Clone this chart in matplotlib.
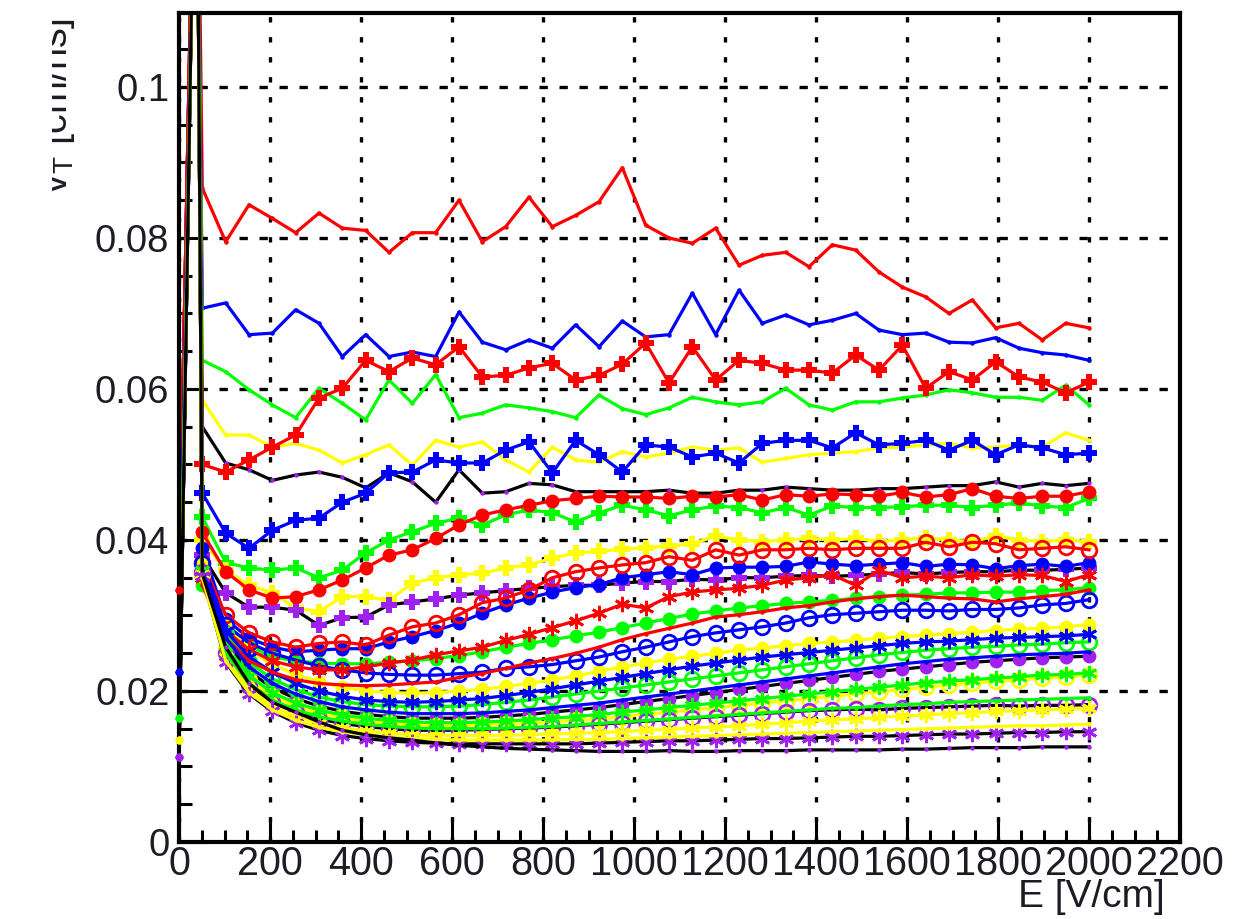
import numpy as np
import matplotlib
matplotlib.use("Agg")
import matplotlib.pyplot as plt
from matplotlib.ticker import MultipleLocator, FuncFormatter
from matplotlib.transforms import Bbox, TransformedBbox

plt.rcParams["font.family"] = ["Liberation Sans", "DejaVu Sans"]
plt.rcParams["mathtext.fontset"] = "custom"
plt.rcParams["mathtext.rm"] = "Liberation Sans"
plt.rcParams["mathtext.it"] = "Liberation Sans:italic"

# ---------------------------------------------------------------- data
# field grid: first point at E = 0, a start-up point, then regular steps
E_STEPS = np.linspace(0, 2000, 40)[1:]
E_START = 38.0
V_START = 0.15
V_ZERO = {"red": 0.0334, "blue": 0.0225, "green": 0.0164,
          "yellow": 0.0135, "violet": 0.0113}

# group A : small markers
A_RED = [0.0866, 0.0795, 0.0844, 0.0826, 0.0807, 0.0833, 0.0813, 0.0810, 0.0781, 0.0807,
         0.0807, 0.0850, 0.0795, 0.0815, 0.0854, 0.0815, 0.0830, 0.0848, 0.0893, 0.0817,
         0.0800, 0.0793, 0.0813, 0.0764, 0.0777, 0.0781, 0.0762, 0.0791, 0.0784, 0.0755,
         0.0735, 0.0722, 0.0700, 0.0718, 0.0681, 0.0687, 0.0665, 0.0687, 0.0681]
A_BLUE = [0.0707, 0.0714, 0.0672, 0.0674, 0.0705, 0.0687, 0.0643, 0.0672, 0.0643, 0.0649,
          0.0643, 0.0702, 0.0662, 0.0652, 0.0665, 0.0654, 0.0685, 0.0656, 0.0690, 0.0669,
          0.0672, 0.0727, 0.0672, 0.0731, 0.0687, 0.0698, 0.0685, 0.0691, 0.0700, 0.0678,
          0.0672, 0.0674, 0.0662, 0.0661, 0.0668, 0.0654, 0.0648, 0.0645, 0.0638]
A_GREEN = [0.0638, 0.0623, 0.0599, 0.0579, 0.0562, 0.0601, 0.0581, 0.0559, 0.0612, 0.0581,
           0.0619, 0.0562, 0.0568, 0.0579, 0.0575, 0.0570, 0.0562, 0.0592, 0.0574, 0.0566,
           0.0575, 0.0589, 0.0583, 0.0579, 0.0583, 0.0601, 0.0579, 0.0572, 0.0583, 0.0583,
           0.0588, 0.0592, 0.0599, 0.0595, 0.0589, 0.0589, 0.0585, 0.0605, 0.0579]
A_YELLOW = [0.0585, 0.0539, 0.0539, 0.0523, 0.0528, 0.0519, 0.0502, 0.0513, 0.0526, 0.0499,
            0.0532, 0.0523, 0.0530, 0.0506, 0.0490, 0.0523, 0.0506, 0.0503, 0.0517, 0.0510,
            0.0515, 0.0523, 0.0519, 0.0522, 0.0503, 0.0508, 0.0513, 0.0515, 0.0517, 0.0522,
            0.0523, 0.0526, 0.0528, 0.0522, 0.0523, 0.0526, 0.0523, 0.0542, 0.0532]
A_VIOLET = [0.0550, 0.0502, 0.0493, 0.0479, 0.0486, 0.0490, 0.0483, 0.0469, 0.0489, 0.0477,
            0.0450, 0.0493, 0.0462, 0.0464, 0.0475, 0.0473, 0.0464, 0.0464, 0.0464, 0.0464,
            0.0466, 0.0462, 0.0462, 0.0466, 0.0466, 0.0470, 0.0468, 0.0466, 0.0466, 0.0468,
            0.0468, 0.0470, 0.0472, 0.0472, 0.0477, 0.0470, 0.0475, 0.0472, 0.0475]

# group B : thick crosses
B_RED = [0.0500, 0.0490, 0.0506, 0.0523, 0.0539, 0.0588, 0.0601, 0.0638, 0.0623, 0.0641,
         0.0632, 0.0656, 0.0616, 0.0618, 0.0628, 0.0634, 0.0612, 0.0618, 0.0633, 0.0661,
         0.0608, 0.0656, 0.0612, 0.0638, 0.0634, 0.0625, 0.0625, 0.0621, 0.0645, 0.0625,
         0.0658, 0.0601, 0.0623, 0.0612, 0.0636, 0.0616, 0.0609, 0.0595, 0.0609]
B_BLUE = [0.0462, 0.0409, 0.0389, 0.0413, 0.0426, 0.0429, 0.0450, 0.0462, 0.0489, 0.0490,
          0.0506, 0.0502, 0.0502, 0.0519, 0.0530, 0.0489, 0.0532, 0.0513, 0.0490, 0.0526,
          0.0523, 0.0510, 0.0515, 0.0502, 0.0528, 0.0532, 0.0532, 0.0522, 0.0542, 0.0526,
          0.0528, 0.0532, 0.0519, 0.0532, 0.0513, 0.0526, 0.0522, 0.0513, 0.0515]
B_GREEN = [0.0430, 0.0370, 0.0363, 0.0360, 0.0363, 0.0350, 0.0360, 0.0383, 0.0400, 0.0411,
           0.0422, 0.0429, 0.0420, 0.0433, 0.0440, 0.0436, 0.0424, 0.0436, 0.0446, 0.0440,
           0.0432, 0.0440, 0.0445, 0.0443, 0.0436, 0.0443, 0.0433, 0.0445, 0.0443, 0.0443,
           0.0444, 0.0446, 0.0446, 0.0443, 0.0446, 0.0449, 0.0445, 0.0443, 0.0455]
B_YELLOW = [0.0400, 0.0360, 0.0340, 0.0330, 0.0310, 0.0305, 0.0325, 0.0325, 0.0320, 0.0343,
            0.0350, 0.0354, 0.0356, 0.0363, 0.0367, 0.0376, 0.0383, 0.0385, 0.0388, 0.0390,
            0.0392, 0.0395, 0.0405, 0.0400, 0.0398, 0.0400, 0.0402, 0.0400, 0.0402, 0.0398,
            0.0400, 0.0403, 0.0400, 0.0398, 0.0405, 0.0400, 0.0398, 0.0400, 0.0398]
B_VIOLET = [0.0380, 0.0330, 0.0311, 0.0311, 0.0307, 0.0287, 0.0297, 0.0298, 0.0314, 0.0318,
            0.0322, 0.0327, 0.0330, 0.0333, 0.0336, 0.0338, 0.0340, 0.0340, 0.0343, 0.0345,
            0.0345, 0.0348, 0.0347, 0.0350, 0.0350, 0.0352, 0.0353, 0.0352, 0.0353, 0.0355,
            0.0357, 0.0355, 0.0357, 0.0358, 0.0358, 0.0360, 0.0360, 0.0361, 0.0363]

# group C : filled circles
C_RED = [0.0410, 0.0358, 0.0334, 0.0323, 0.0325, 0.0334, 0.0347, 0.0363, 0.0380, 0.0387,
         0.0402, 0.0420, 0.0433, 0.0440, 0.0446, 0.0452, 0.0455, 0.0458, 0.0457, 0.0457,
         0.0455, 0.0458, 0.0457, 0.0460, 0.0453, 0.0460, 0.0458, 0.0461, 0.0460, 0.0458,
         0.0463, 0.0457, 0.0460, 0.0468, 0.0458, 0.0455, 0.0458, 0.0458, 0.0464]
C_BLUE = [0.0390, 0.0295, 0.0270, 0.0258, 0.0252, 0.0254, 0.0256, 0.0256, 0.0265, 0.0272,
          0.0280, 0.0290, 0.0303, 0.0314, 0.0323, 0.0331, 0.0337, 0.0341, 0.0350, 0.0354,
          0.0358, 0.0354, 0.0363, 0.0364, 0.0364, 0.0365, 0.0371, 0.0368, 0.0366, 0.0368,
          0.0370, 0.0365, 0.0368, 0.0367, 0.0362, 0.0366, 0.0368, 0.0365, 0.0370]
C_GREEN = [0.0340, 0.0290, 0.0260, 0.0245, 0.0240, 0.0237, 0.0236, 0.0236, 0.0238, 0.0240,
           0.0243, 0.0247, 0.0252, 0.0258, 0.0263, 0.0268, 0.0273, 0.0278, 0.0284, 0.0290,
           0.0296, 0.0302, 0.0306, 0.0310, 0.0313, 0.0316, 0.0318, 0.0320, 0.0323, 0.0325,
           0.0327, 0.0328, 0.0330, 0.0330, 0.0331, 0.0331, 0.0333, 0.0334, 0.0337]
C_YELLOW = [0.0370, 0.0290, 0.0255, 0.0235, 0.0222, 0.0212, 0.0205, 0.0200, 0.0198, 0.0197,
            0.0198, 0.0200, 0.0202, 0.0206, 0.0210, 0.0215, 0.0220, 0.0226, 0.0232, 0.0237,
            0.0242, 0.0246, 0.0250, 0.0254, 0.0257, 0.0260, 0.0263, 0.0265, 0.0267, 0.0270,
            0.0272, 0.0274, 0.0276, 0.0278, 0.0280, 0.0282, 0.0283, 0.0285, 0.0288]
C_VIOLET = [0.0355, 0.0265, 0.0226, 0.0204, 0.0190, 0.0180, 0.0173, 0.0169, 0.0166, 0.0164,
            0.0164, 0.0164, 0.0165, 0.0167, 0.0169, 0.0172, 0.0175, 0.0178, 0.0182, 0.0186,
            0.0190, 0.0194, 0.0198, 0.0202, 0.0206, 0.0210, 0.0214, 0.0218, 0.0222, 0.0226,
            0.0229, 0.0232, 0.0235, 0.0238, 0.0240, 0.0242, 0.0244, 0.0245, 0.0246]

# group D : open circles
D_RED = [0.0370, 0.0301, 0.0277, 0.0265, 0.0258, 0.0263, 0.0265, 0.0261, 0.0274, 0.0285,
         0.0290, 0.0301, 0.0317, 0.0323, 0.0334, 0.0350, 0.0358, 0.0363, 0.0367, 0.0370,
         0.0378, 0.0373, 0.0387, 0.0380, 0.0387, 0.0387, 0.0389, 0.0387, 0.0389, 0.0389,
         0.0389, 0.0397, 0.0391, 0.0397, 0.0395, 0.0387, 0.0389, 0.0391, 0.0387]
D_BLUE = [0.0370, 0.0287, 0.0264, 0.0250, 0.0241, 0.0233, 0.0228, 0.0224, 0.0222, 0.0221,
          0.0221, 0.0223, 0.0225, 0.0230, 0.0232, 0.0235, 0.0240, 0.0245, 0.0252, 0.0258,
          0.0265, 0.0272, 0.0277, 0.0281, 0.0285, 0.0290, 0.0297, 0.0301, 0.0303, 0.0305,
          0.0307, 0.0307, 0.0306, 0.0308, 0.0308, 0.0310, 0.0314, 0.0316, 0.0321]
D_GREEN = [0.0355, 0.0275, 0.0238, 0.0216, 0.0202, 0.0192, 0.0186, 0.0182, 0.0180, 0.0179,
           0.0179, 0.0180, 0.0182, 0.0185, 0.0188, 0.0192, 0.0196, 0.0200, 0.0204, 0.0208,
           0.0212, 0.0216, 0.0220, 0.0224, 0.0228, 0.0232, 0.0236, 0.0240, 0.0244, 0.0248,
           0.0251, 0.0254, 0.0256, 0.0258, 0.0259, 0.0261, 0.0262, 0.0264, 0.0265]
D_YELLOW = [0.0355, 0.0255, 0.0215, 0.0193, 0.0180, 0.0171, 0.0165, 0.0160, 0.0157, 0.0155,
            0.0154, 0.0154, 0.0155, 0.0156, 0.0157, 0.0159, 0.0161, 0.0163, 0.0166, 0.0169,
            0.0172, 0.0175, 0.0178, 0.0181, 0.0184, 0.0187, 0.0190, 0.0193, 0.0196, 0.0199,
            0.0202, 0.0205, 0.0208, 0.0210, 0.0213, 0.0215, 0.0217, 0.0219, 0.0221]
D_VIOLET = [0.0358, 0.0250, 0.0208, 0.0185, 0.0172, 0.0163, 0.0157, 0.0153, 0.0150, 0.0148,
            0.0148, 0.0148, 0.0149, 0.0150, 0.0151, 0.0152, 0.0154, 0.0156, 0.0158, 0.0160,
            0.0162, 0.0164, 0.0166, 0.0168, 0.0170, 0.0172, 0.0174, 0.0175, 0.0176, 0.0175,
            0.0177, 0.0178, 0.0179, 0.0180, 0.0181, 0.0180, 0.0181, 0.0181, 0.0182]

# group E : asterisks
E_RED = [0.0350, 0.0280, 0.0255, 0.0240, 0.0232, 0.0228, 0.0228, 0.0232, 0.0237, 0.0241,
         0.0248, 0.0253, 0.0258, 0.0267, 0.0275, 0.0284, 0.0293, 0.0303, 0.0315, 0.0310,
         0.0325, 0.0331, 0.0334, 0.0336, 0.0340, 0.0347, 0.0350, 0.0354, 0.0340, 0.0360,
         0.0350, 0.0352, 0.0350, 0.0354, 0.0352, 0.0354, 0.0353, 0.0345, 0.0354]
E_BLUE = [0.0360, 0.0280, 0.0245, 0.0225, 0.0210, 0.0200, 0.0193, 0.0188, 0.0186, 0.0185,
          0.0186, 0.0188, 0.0190, 0.0194, 0.0198, 0.0203, 0.0208, 0.0213, 0.0218, 0.0223,
          0.0228, 0.0233, 0.0237, 0.0241, 0.0245, 0.0248, 0.0251, 0.0254, 0.0257, 0.0260,
          0.0263, 0.0265, 0.0266, 0.0268, 0.0270, 0.0271, 0.0272, 0.0273, 0.0275]
E_GREEN = [0.0360, 0.0260, 0.0220, 0.0198, 0.0184, 0.0175, 0.0168, 0.0164, 0.0161, 0.0159,
           0.0158, 0.0158, 0.0159, 0.0160, 0.0162, 0.0164, 0.0166, 0.0169, 0.0172, 0.0175,
           0.0178, 0.0181, 0.0184, 0.0187, 0.0190, 0.0193, 0.0196, 0.0199, 0.0202, 0.0205,
           0.0208, 0.0211, 0.0213, 0.0215, 0.0217, 0.0219, 0.0221, 0.0222, 0.0224]
E_YELLOW = [0.0355, 0.0245, 0.0203, 0.0180, 0.0166, 0.0157, 0.0151, 0.0147, 0.0144, 0.0142,
            0.0141, 0.0141, 0.0141, 0.0141, 0.0142, 0.0143, 0.0144, 0.0145, 0.0146, 0.0148,
            0.0149, 0.0151, 0.0152, 0.0154, 0.0156, 0.0158, 0.0160, 0.0162, 0.0163, 0.0165,
            0.0167, 0.0168, 0.0170, 0.0171, 0.0173, 0.0174, 0.0175, 0.0176, 0.0177]
E_VIOLET = [0.0352, 0.0238, 0.0196, 0.0173, 0.0158, 0.0148, 0.0141, 0.0137, 0.0134, 0.0132,
            0.0131, 0.0130, 0.0130, 0.0130, 0.0130, 0.0130, 0.0130, 0.0131, 0.0132, 0.0133,
            0.0134, 0.0134, 0.0135, 0.0136, 0.0137, 0.0137, 0.0138, 0.0139, 0.0140, 0.0140,
            0.0141, 0.0142, 0.0143, 0.0143, 0.0144, 0.0145, 0.0145, 0.0146, 0.0146]

# group F : plain lines with small markers
F_RED = [0.0340, 0.0270, 0.0240, 0.0225, 0.0215, 0.0210, 0.0208, 0.0207, 0.0208, 0.0210,
         0.0212, 0.0218, 0.0223, 0.0230, 0.0237, 0.0243, 0.0250, 0.0258, 0.0268, 0.0276,
         0.0283, 0.0290, 0.0298, 0.0301, 0.0305, 0.0310, 0.0313, 0.0318, 0.0322, 0.0325,
         0.0327, 0.0325, 0.0323, 0.0322, 0.0318, 0.0322, 0.0325, 0.0328, 0.0334]
F_BLUE = [0.0360, 0.0270, 0.0232, 0.0210, 0.0196, 0.0186, 0.0179, 0.0175, 0.0172, 0.0170,
          0.0170, 0.0170, 0.0171, 0.0173, 0.0175, 0.0178, 0.0181, 0.0184, 0.0188, 0.0192,
          0.0196, 0.0200, 0.0204, 0.0208, 0.0212, 0.0216, 0.0220, 0.0224, 0.0228, 0.0232,
          0.0236, 0.0239, 0.0242, 0.0244, 0.0246, 0.0248, 0.0249, 0.0250, 0.0252]
F_GREEN = [0.0355, 0.0250, 0.0210, 0.0188, 0.0175, 0.0166, 0.0160, 0.0156, 0.0153, 0.0151,
           0.0150, 0.0150, 0.0150, 0.0151, 0.0152, 0.0153, 0.0155, 0.0157, 0.0159, 0.0161,
           0.0163, 0.0165, 0.0167, 0.0169, 0.0171, 0.0173, 0.0175, 0.0177, 0.0178, 0.0180,
           0.0182, 0.0183, 0.0185, 0.0186, 0.0187, 0.0188, 0.0189, 0.0190, 0.0191]
F_YELLOW = [0.0350, 0.0240, 0.0198, 0.0175, 0.0161, 0.0152, 0.0146, 0.0142, 0.0139, 0.0137,
            0.0136, 0.0135, 0.0135, 0.0135, 0.0135, 0.0135, 0.0136, 0.0136, 0.0137, 0.0138,
            0.0139, 0.0140, 0.0141, 0.0142, 0.0143, 0.0144, 0.0145, 0.0146, 0.0147, 0.0148,
            0.0149, 0.0150, 0.0151, 0.0152, 0.0153, 0.0154, 0.0154, 0.0155, 0.0156]
F_VIOLET = [0.0355, 0.0258, 0.0210, 0.0185, 0.0172, 0.0159, 0.0148, 0.0142, 0.0138, 0.0135,
            0.0131, 0.0128, 0.0126, 0.0124, 0.0123, 0.0122, 0.0121, 0.0120, 0.0120, 0.0120,
            0.0121, 0.0120, 0.0120, 0.0121, 0.0121, 0.0121, 0.0122, 0.0122, 0.0122, 0.0122,
            0.0123, 0.0123, 0.0124, 0.0125, 0.0125, 0.0125, 0.0126, 0.0126, 0.0126]

X_TICKS = [0, 200, 400, 600, 800, 1000, 1200, 1400, 1600, 1800, 2000, 2200]
Y_TICKS = [0, 0.02, 0.04, 0.06, 0.08, 0.1]

# ---------------------------------------------------------------- styles
COLORS = {"red": "#ff0000", "blue": "#0000ff", "green": "#00ff00",
          "yellow": "#ffff00", "violet": "#a020f0"}
LINE_COLORS = dict(COLORS, violet="#000000")

MARKERS = {
    "A": dict(marker="o", ms=3.2, mew=0),
    "B": dict(marker="P", ms=12, mew=0),
    "C": dict(marker="o", ms=10, mew=0),
    "D": dict(marker="o", ms=10.5, mew=2.0, fill=False),
    "E": dict(marker=(6, 2, 0), ms=11, mew=2.0),
    "F": dict(marker="o", ms=3.2, mew=0),
}

SERIES = [
    ("A", "red", A_RED), ("A", "blue", A_BLUE), ("A", "green", A_GREEN),
    ("A", "yellow", A_YELLOW), ("A", "violet", A_VIOLET),
    ("B", "red", B_RED), ("B", "blue", B_BLUE), ("B", "green", B_GREEN),
    ("B", "yellow", B_YELLOW), ("B", "violet", B_VIOLET),
    ("C", "red", C_RED), ("C", "blue", C_BLUE), ("C", "green", C_GREEN),
    ("C", "yellow", C_YELLOW), ("C", "violet", C_VIOLET),
    ("D", "red", D_RED), ("D", "blue", D_BLUE), ("D", "green", D_GREEN),
    ("D", "yellow", D_YELLOW), ("D", "violet", D_VIOLET),
    ("E", "red", E_RED), ("E", "blue", E_BLUE), ("E", "green", E_GREEN),
    ("E", "yellow", E_YELLOW), ("E", "violet", E_VIOLET),
    ("F", "red", F_RED), ("F", "blue", F_BLUE), ("F", "green", F_GREEN),
    ("F", "yellow", F_YELLOW), ("F", "violet", F_VIOLET),
]

TEXT_COLOR = "#1c1c24"

# ---------------------------------------------------------------- figure
fig = plt.figure(figsize=(12.55, 9.19), dpi=100)
ax = fig.add_axes([179 / 1255, 77 / 919, 1001 / 1255, 829 / 919])

e_axis = np.concatenate([[0.0, E_START], E_STEPS])
for group, cname, values in SERIES:
    v = np.concatenate([[V_ZERO[cname], V_START], values])
    st = dict(MARKERS[group])
    filled = st.pop("fill", True)
    mc = COLORS[cname]
    ax.plot(e_axis, v, color=LINE_COLORS[cname], lw=2.3,
            mfc=mc if filled else "none", mec=mc,
            markevery=slice(2, None), **st)
    # small dot at the E = 0 point, drawn over the frame
    ax.plot(e_axis[:1], v[:1], ls="none", marker="o", ms=5.5, mew=0,
            color=mc, clip_on=False, zorder=4)

ax.set_xlim(0, 2200)
ax.set_ylim(0, 0.1098)
ax.set_xticks(X_TICKS)
ax.set_yticks(Y_TICKS)
ax.xaxis.set_minor_locator(MultipleLocator(50))
ax.yaxis.set_minor_locator(MultipleLocator(0.005))
ax.yaxis.set_major_formatter(FuncFormatter(lambda y, _: "%g" % round(y, 4)))
ax.xaxis.set_major_formatter(FuncFormatter(lambda x, _: "%d" % x))

ax.tick_params(which="both", direction="in", top=False, right=False,
               width=2.2, colors="black", labelcolor=TEXT_COLOR)
ax.tick_params(which="major", length=18)
ax.tick_params(which="minor", length=9)
ax.tick_params(axis="x", which="major", pad=2, labelsize=28.5)
ax.tick_params(axis="y", which="major", pad=7, labelsize=27.5)

for sp in ax.spines.values():
    sp.set_linewidth(3.0)

ax.set_axisbelow(True)
ax.grid(axis="x", which="major", color="black", lw=2.4, ls=(0, (1.6, 4.4)))
ax.grid(axis="y", which="major", color="black", lw=2.4, ls=(0, (2.5, 3.5)))

fig.text(1165 / 1255, 1 - 897 / 919, "E [V/cm]", ha="right", va="center",
         fontsize=28, color=TEXT_COLOR)

ylab = fig.text(67 / 1255, 1 - 18 / 919, r"v$_{\mathrm{T}}$ [cm/ns]", rotation=90,
                rotation_mode="anchor", ha="right", va="baseline",
                fontsize=28.5, color=TEXT_COLOR)
ylab.set_clip_box(TransformedBbox(Bbox([[52 / 1255, 0], [1, 1]]), fig.transFigure))
ylab.set_clip_on(True)

fig.savefig("out.png", dpi=100, facecolor="white")
